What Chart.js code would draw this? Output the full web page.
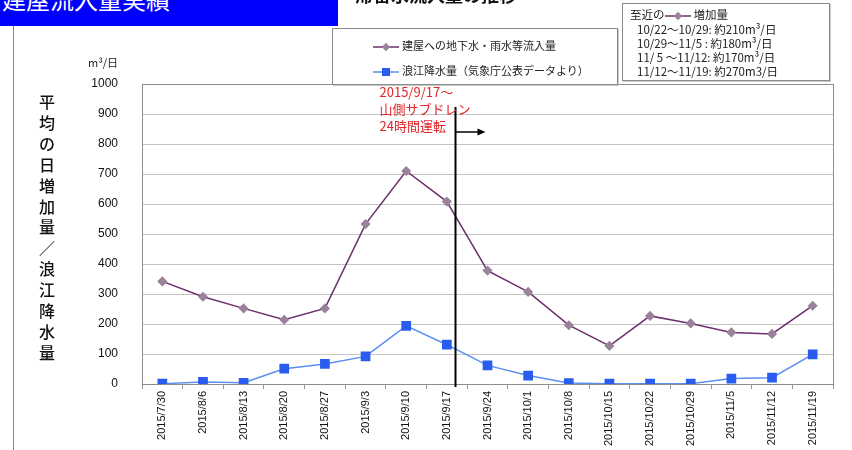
<!DOCTYPE html>
<html lang="ja">
<head>
<meta charset="utf-8">
<title>建屋流入量実績</title>
<script src="https://cdn.jsdelivr.net/npm/chart.js@4.4.1/dist/chart.umd.min.js"></script>
<style>
body { margin: 0; background: #fff; font-family: "Noto Sans CJK JP", sans-serif; }
#wrap { position: relative; width: 852px; height: 450px; overflow: hidden; }
#chart { position: absolute; left: 0; top: 0; }
#title { position: absolute; left: 0; top: 0; width: 338px; height: 26px; background: #0000ff; overflow: hidden; }
#title span { position: absolute; left: 2px; top: -13px; color: #fff; font-size: 24px; line-height: 24px; white-space: nowrap; }
#subtitle { position: absolute; left: 355px; top: -15px; font-size: 18px; line-height: 18px; font-weight: bold; color: #111; white-space: nowrap; }
#frameLine { position: absolute; left: 13px; top: 26px; width: 1px; height: 430px; background: #888; }
.box { position: absolute; background: #fff; border: 1px solid #8a8a8a; box-shadow: 1px 1px 0 #c8c8c8; }
#legend { left: 332px; top: 28px; width: 284px; height: 55px; font-size: 11px; color: #222; }
#legend .row { position: absolute; left: 40px; height: 14px; line-height: 14px; white-space: nowrap; }
#legend svg, #info svg { vertical-align: middle; margin-right: 3px; }
#info { left: 622px; top: 3px; width: 206px; height: 76px; font-size: 11.5px; color: #222; }
#info .row { position: absolute; height: 14px; line-height: 14px; white-space: nowrap; }
#unit { position: absolute; left: 88px; top: 54px; font-size: 11px; color: #222; }
</style>
</head>
<body>
<div id="wrap">
  <canvas id="chart" width="852" height="450"></canvas>
  <div id="frameLine"></div>
  <div id="title"><span>建屋流入量実績</span></div>
  <div id="subtitle">滞留水流入量の推移</div>
  <div id="legend" class="box"></div>
  <div id="info" class="box"></div>
  <div id="unit">m³/日</div>
</div>
<script>
// データ
const categories = ['2015/7/30', '2015/8/6', '2015/8/13', '2015/8/20', '2015/8/27', '2015/9/3', '2015/9/10',
  '2015/9/17', '2015/9/24', '2015/10/1', '2015/10/8', '2015/10/15', '2015/10/22', '2015/10/29',
  '2015/11/5', '2015/11/12', '2015/11/19'];
const inflow = [342, 291, 252, 214, 252, 533, 710, 608, 378, 307, 196, 127, 227, 202, 172, 167, 261];
const rainfall = [1, 7, 4, 51, 67, 92, 194, 131, 62, 28, 3, 1, 1, 1, 18, 21, 99];
const seriesNames = ['建屋への地下水・雨水等流入量', '浪江降水量（気象庁公表データより）'];
const yMin = 0, yMax = 1000, yStep = 100;
const yTitle = '平均の日増加量／浪江降水量';

// 注記
const eventPos = 7.2;        // 2015/9/17 直後
const eventTop = 913;
const arrowLevel = 840;
const eventText = ['2015/9/17～', '山側サブドレン', '24時間運転'];
const recentTitle = ['至近の', '増加量'];
const recentLines = ['10/22～10/29: 約210m³/日', '10/29～11/5 : 約180m³/日',
  '11/ 5 ～11/12: 約170m³/日', '11/12～11/19: 約270m3/日'];

const purple = '#6e2f6c', purpleMark = '#9b829b';
const blue = '#5b8ff2', blueMark = '#2a5cf0';

function symbol(line, fill, shape) {
  const mark = shape === 'diamond'
    ? '<rect x="10" y="2" width="6" height="6" fill="' + fill + '" transform="rotate(45 13 5)"/>'
    : '<rect x="9" y="1" width="8" height="8" fill="' + fill + '"/>';
  return '<svg width="26" height="10"><line x1="0" y1="5" x2="26" y2="5" stroke="' + line + '" stroke-width="1.5"/>' + mark + '</svg>';
}

document.getElementById('legend').innerHTML =
  '<div class="row" style="top:9px">' + symbol(purple, purpleMark, 'diamond') + seriesNames[0] + '</div>' +
  '<div class="row" style="top:34px">' + symbol(blue, blueMark, 'square') + seriesNames[1] + '</div>';

let infoHtml = '<div class="row" style="left:7px;top:3px">' + recentTitle[0] + symbol(purple, purpleMark, 'diamond') + recentTitle[1] + '</div>';
recentLines.forEach(function(t, i) {
  infoHtml += '<div class="row" style="left:14px;top:' + (18 + i * 14) + 'px">' + t + '</div>';
});
document.getElementById('info').innerHTML = infoHtml;

const overlay = {
  id: 'overlay',
  afterDraw(chart) {
    const ctx = chart.ctx, a = chart.chartArea;
    const x = chart.scales.x, y = chart.scales.y;
    ctx.save();
    // 枠
    ctx.strokeStyle = '#8c8c8c';
    ctx.lineWidth = 1;
    ctx.strokeRect(a.left + 0.5, a.top + 0.5, a.right - a.left, a.bottom - a.top);
    // 縦線と矢印
    const lx = Math.round(x.getPixelForValue(eventPos)) + 0.5;
    ctx.strokeStyle = '#000';
    ctx.lineWidth = 2;
    ctx.beginPath();
    ctx.moveTo(lx, y.getPixelForValue(eventTop) - 3);
    ctx.lineTo(lx, a.bottom + 3);
    ctx.stroke();
    const ay = y.getPixelForValue(arrowLevel);
    ctx.lineWidth = 1.5;
    ctx.beginPath();
    ctx.moveTo(lx, ay);
    ctx.lineTo(lx + 24, ay);
    ctx.stroke();
    ctx.fillStyle = '#000';
    ctx.beginPath();
    ctx.moveTo(lx + 30, ay);
    ctx.lineTo(lx + 22, ay - 3.5);
    ctx.lineTo(lx + 22, ay + 3.5);
    ctx.closePath();
    ctx.fill();
    // 赤字注記
    ctx.fillStyle = '#e0262a';
    ctx.font = '13px "Noto Sans CJK JP"';
    ctx.textBaseline = 'middle';
    ctx.textAlign = 'left';
    eventText.forEach(function(t, i) {
      ctx.fillText(t, lx - 76, y.getPixelForValue(eventTop) - 18 + i * 17);
    });
    // 縦書き軸タイトル
    ctx.fillStyle = '#111';
    ctx.font = '500 16px "Noto Sans CJK JP"';
    ctx.textAlign = 'center';
    Array.from(yTitle).forEach(function(c, i) {
      ctx.fillText(c, 47, 102 + i * 20.9);
    });
    ctx.restore();
  }
};

new Chart(document.getElementById('chart').getContext('2d'), {
  type: 'line',
  data: {
    labels: categories,
    datasets: [{
      label: seriesNames[0],
      data: inflow,
      borderColor: purple,
      borderWidth: 1.5,
      pointStyle: 'rectRot',
      pointRadius: 4,
      pointBackgroundColor: purpleMark,
      pointBorderColor: purpleMark,
      tension: 0
    }, {
      label: seriesNames[1],
      data: rainfall,
      borderColor: blue,
      borderWidth: 1.5,
      pointStyle: 'rect',
      pointRadius: 5.8,
      pointBackgroundColor: blueMark,
      pointBorderColor: blueMark,
      tension: 0
    }]
  },
  options: {
    responsive: false,
    animation: false,
    layout: { padding: { top: 84, right: 19, left: 0, bottom: 0 } },
    plugins: { legend: { display: false }, tooltip: { enabled: false } },
    scales: {
      x: {
        offset: true,
        afterFit: function(s) { s.height = 66; },
        grid: { offset: true, drawOnChartArea: false, drawTicks: true, tickLength: 5, color: '#999' },
        border: { color: '#8c8c8c' },
        ticks: {
          minRotation: 90, maxRotation: 90, autoSkip: false, padding: 2,
          color: '#111', font: { size: 11, family: '"Liberation Sans", Arial, sans-serif' }
        }
      },
      y: {
        min: yMin, max: yMax,
        afterFit: function(s) { s.width = 142; },
        grid: { color: '#c4c4c4', drawTicks: false },
        border: { color: '#8c8c8c' },
        ticks: {
          stepSize: yStep, padding: 24,
          callback: function(v) { return String(v); },
          color: '#111', font: { size: 12, family: '"Liberation Sans", Arial, sans-serif' }
        }
      }
    }
  },
  plugins: [overlay]
});
</script>
</body>
</html>
